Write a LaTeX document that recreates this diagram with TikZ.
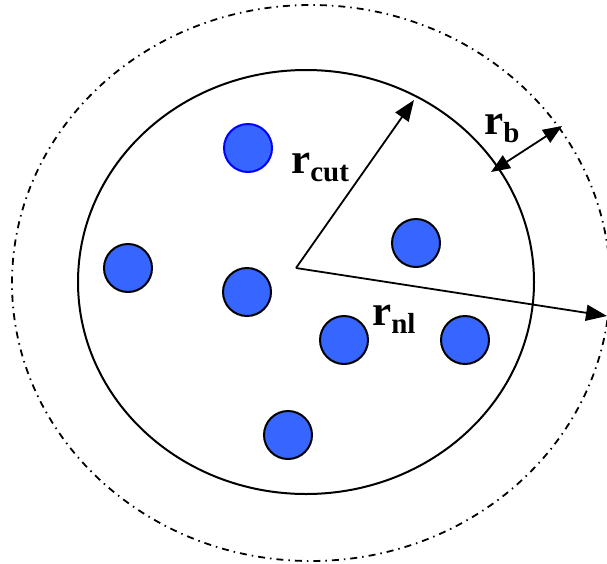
\documentclass[tikz,border=0pt]{standalone}
\usepackage{fontspec}
\setmainfont{Liberation Serif}
\usetikzlibrary{arrows.meta}
\newcommand{\rlab}[1]{\fontsize{43}{43}\selectfont\bfseries r\raisebox{-8pt}{\fontsize{29}{29}\selectfont #1}}
\tikzset{
  dot/.style={circle,draw=black,line width=2pt,fill=dotblue,minimum size=48pt,inner sep=0pt},
  ring/.style={draw=black,line width=2pt},
  outerring/.style={draw=black,line width=1.8pt,dash pattern=on 7pt off 5pt on 1.5pt off 5pt},
  radius arrow/.style={draw=black,line width=1.8pt,-{Triangle[length=21pt,width=16pt]}},
  both arrow/.style={draw=black,line width=1.8pt,{Triangle[length=19pt,width=15pt]}-{Triangle[length=19pt,width=15pt]}},
  lab/.style={inner sep=0pt,anchor=base west}
}
\definecolor{dotblue}{RGB}{54,102,255}
\definecolor{edgeblue}{RGB}{0,0,255}
\begin{document}
\begin{tikzpicture}[x=1pt,y=-1pt]
\useasboundingbox (0,0) rectangle (607,563);
\draw[outerring] (311,283) ellipse [x radius=299, y radius=278];
\draw[ring] (306,282) ellipse [x radius=228, y radius=212];
\node[dot,draw=edgeblue] (d1) at (248,148) {};
\node[dot] (d2) at (128,268) {};
\node[dot] (d3) at (247,292) {};
\node[dot] (d4) at (416,243) {};
\node[dot] (d5) at (344,340) {};
\node[dot] (d6) at (465,340) {};
\node[dot] (d7) at (288,435) {};
\coordinate (c) at (296,268);
\coordinate (tcut) at (414,100);
\coordinate (tnl) at (607,316);
\coordinate (b1) at (491,172);
\coordinate (b2) at (562,126);
\draw[radius arrow] (c) -- (tcut);
\draw[radius arrow] (c) -- (tnl);
\draw[both arrow] (b1) -- (b2);
\node[lab] (lcut) at (291,173) {\rlab{cut}};
\node[lab] (lb) at (484,134) {\rlab{b}};
\node[lab] (lnl) at (372,325) {\rlab{nl}};
\end{tikzpicture}
\end{document}
